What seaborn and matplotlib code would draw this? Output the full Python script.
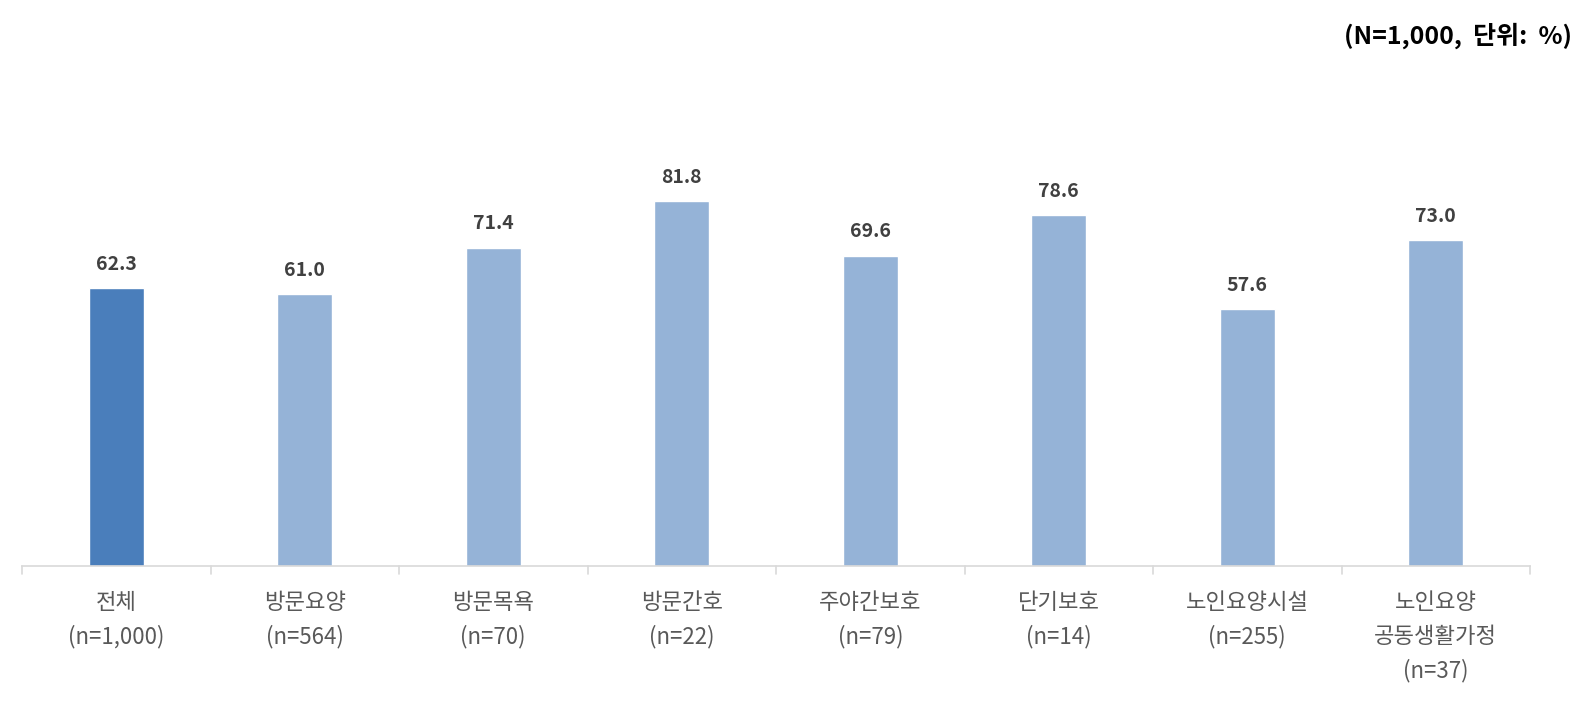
import matplotlib
matplotlib.use("Agg")
import matplotlib.pyplot as plt
import seaborn as sns
import pandas as pd

# --- dados ---
categorias = ['전체', '방문요양', '방문목욕', '방문간호', '주야간보호', '단기보호', '노인요양시설', '노인요양\n공동생활가정']
amostras = ['1,000', '564', '70', '22', '79', '14', '255', '37']
valores = [62.3, 61.0, 71.4, 81.8, 69.6, 78.6, 57.6, 73.0]
cores = ['#4a7ebb'] + ['#95b3d7'] * 7

df = pd.DataFrame({'cat': categorias, 'val': valores})

sns.set_style("white")
plt.rcParams['font.family'] = ['Noto Sans CJK KR', 'DejaVu Sans']

fig = plt.figure(figsize=(15.9, 7.26), dpi=100)
ax = fig.add_axes([22 / 1590, 1 - 566 / 726, (1530 - 22) / 1590, 446 / 726])

sns.barplot(data=df, x='cat', y='val', hue='cat', palette=cores, legend=False,
            width=0.29, saturation=1, ax=ax)

ax.set_ylim(0, 100)
ax.set_xlim(-0.5, len(categorias) - 0.5)
ax.set_yticks([])
ax.set_xlabel('')
ax.set_ylabel('')
for s in ['top', 'right', 'left']:
    ax.spines[s].set_visible(False)
ax.spines['bottom'].set_color('#d9d9d9')
ax.spines['bottom'].set_linewidth(1.2)

# rótulos de categoria
rotulos = [f'{c}\n(n={n})' for c, n in zip(categorias, amostras)]
ax.set_xticks(range(len(categorias)))
ax.set_xticklabels(rotulos, fontsize=16, color='#595959', linespacing=1.6,
                   fontweight='medium')
ax.tick_params(axis='x', length=0, pad=18)

# marcas entre categorias
for i in range(len(categorias) + 1):
    ax.plot([i - 0.5, i - 0.5], [0, -1.8], color='#d9d9d9', lw=1.2, clip_on=False)

# valores
for i, v in enumerate(valores):
    ax.text(i, v + 3.2, f'{v:.1f}', ha='center', va='bottom', fontsize=14,
            fontweight='bold', color='#404040')

fig.text(1572 / 1590, 1 - 36 / 726, '(N=1,000,  단위:  %)', ha='right', va='center',
         fontsize=18, fontweight='bold', color='black')

fig.savefig('out.png', dpi=100)
